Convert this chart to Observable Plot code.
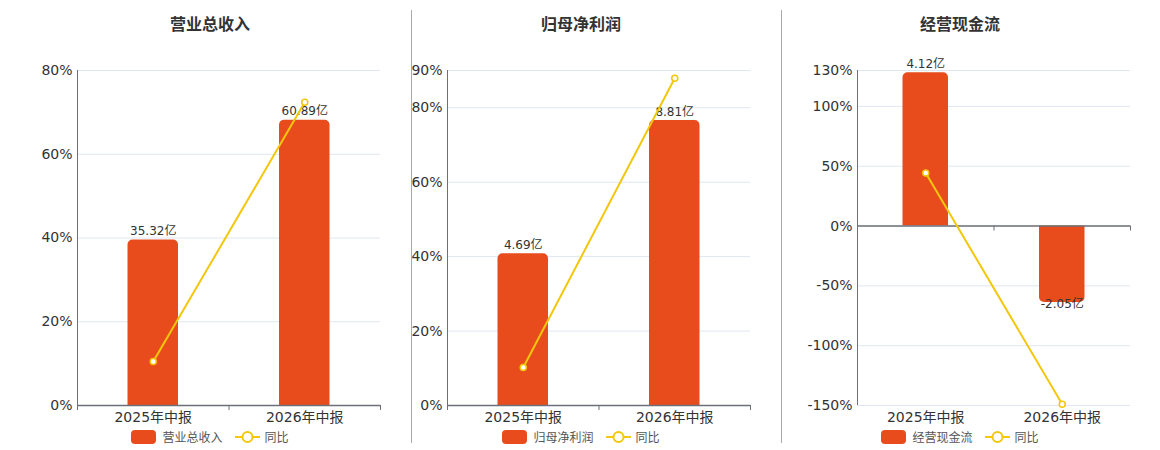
<!DOCTYPE html>
<html>
<head>
<meta charset="utf-8">
<script src="https://cdn.jsdelivr.net/npm/d3@7"></script>
<script src="https://cdn.jsdelivr.net/npm/@observablehq/plot@0.6"></script>
<style>
  html, body { margin: 0; padding: 0; background: #fff; }
  #root { position: relative; width: 1160px; height: 450px; overflow: hidden; font-family: "DejaVu Sans", "Noto Sans CJK SC", sans-serif; }
  .title { position: absolute; top: 11px; width: 240px; text-align: center; font-size: 16px; font-weight: bold; color: #333; }
  .sep { position: absolute; top: 10px; width: 1px; height: 433px; background: #aaa; z-index: 5; }
  .legend { position: absolute; top: 428px; width: 240px; display: flex; justify-content: center; align-items: center; font-size: 12px; color: #555; }
  .legend .sw { display: inline-block; width: 25px; height: 14px; border-radius: 4px; margin-right: 6px; }
  .legend svg { margin-left: 12px; margin-right: 5px; }
  .chart { position: absolute; top: 40px; }
</style>
</head>
<body>
<div id="root"></div>
<script>
// ---- data ----
const categories = ["2025年中报", "2026年中报"];
const titles = ["营业总收入", "归母净利润", "经营现金流"];
const barValues = [
  [35.32, 60.89],
  [4.69, 8.81],
  [4.12, -2.05]
];
const yoyValues = [
  [10.5, 72.4],
  [10.2, 87.9],
  [44.4, -149]
];
const pctDomains = [[0, 80], [0, 90], [-150, 130]];
const pctTicks = [
  [0, 20, 40, 60, 80],
  [0, 20, 40, 60, 80, 90],
  [-150, -100, -50, 0, 50, 100, 130]
];
// hidden secondary (amount, 亿) axis domains aligned to the percent axis
const barDomains = [[0, 71.5], [0, 10.36], [-4.82, 4.18]];

const barColor = "#e84c1c";
const lineColor = "#f2c70c";

// ---- layout of each panel ----
const panels = [
  { svgLeft: 0,   width: 400, mLeft: 77, mRight: 20, center: 210 },
  { svgLeft: 411, width: 370, mLeft: 36, mRight: 31, center: 581 },
  { svgLeft: 781, width: 379, mLeft: 76, mRight: 30, center: 960 }
];

// bars with rounded far-end corners, drawn through Plot's scales
function roundedBars(rows, fill, radius) {
  return (index, scales) => {
    const g = d3.create("svg:g");
    for (const d of rows) {
      const x0 = scales.x(d.i + 1/3), x1 = scales.x(d.i + 2/3);
      const yb = scales.y(0), yt = scales.y(d.bar);
      const h = Math.abs(yt - yb);
      const r = Math.min(radius, h, (x1 - x0) / 2);
      const s = yt < yb ? 1 : -1; // 1: bar goes up
      const path = s === 1
        ? `M${x0},${yb}V${yt + r}A${r},${r} 0 0 1 ${x0 + r},${yt}H${x1 - r}A${r},${r} 0 0 1 ${x1},${yt + r}V${yb}Z`
        : `M${x0},${yb}V${yt - r}A${r},${r} 0 0 0 ${x0 + r},${yt}H${x1 - r}A${r},${r} 0 0 0 ${x1},${yt - r}V${yb}Z`;
      g.append("path").attr("d", path).attr("fill", fill);
    }
    return g.node();
  };
}

const root = document.getElementById("root");

titles.forEach((title, k) => {
  const p = panels[k];
  const pd = pctDomains[k], bd = barDomains[k];
  const toPct = v => pd[0] + (v - bd[0]) / (bd[1] - bd[0]) * (pd[1] - pd[0]);
  const rows = categories.map((c, i) => ({
    i, cat: c,
    amt: barValues[k][i],
    bar: toPct(barValues[k][i]),
    yoy: yoyValues[k][i],
    label: barValues[k][i].toFixed(2) + "亿"
  }));
  const plot = Plot.plot({
    width: p.width,
    height: 390,
    marginLeft: p.mLeft,
    marginRight: p.mRight,
    marginTop: 30,
    marginBottom: 25,
    style: { fontFamily: "DejaVu Sans, Noto Sans CJK SC, sans-serif", fontSize: "14px", color: "#333", background: "white" },
    x: { type: "linear", domain: [0, categories.length], axis: null },
    y: { domain: pd, axis: null },
    marks: [
      Plot.ruleY(pctTicks[k], { stroke: "#e0e6f1", strokeWidth: 1 }),
      roundedBars(rows, barColor, 5),
      Plot.ruleX([0], { stroke: "#6e7079", strokeWidth: 1 }),
      Plot.ruleY([0], { stroke: "#6e7079", strokeWidth: 1.5 }),
      Plot.ruleX(d3.range(categories.length + 1), { x: d => d, y1: () => 0, y2: () => 0, insetBottom: -5, stroke: "#6e7079", strokeWidth: 1 }),
      Plot.axisY({ ticks: pctTicks[k], tickSize: 0, tickPadding: 5, tickFormat: d => d + "%", fontSize: 14, label: null, fill: "#333" }),
      Plot.axisX({ ticks: categories.map((c, i) => i + 0.5), tickSize: 0, tickPadding: 7, tickFormat: v => categories[Math.floor(v)], fontSize: 14, label: null, fill: "#333" }),
      Plot.text(rows.filter(d => d.amt >= 0), { x: d => d.i + 0.5, y: d => d.bar, text: d => d.label, lineAnchor: "bottom", dy: -5, fontSize: 12, fill: "#333" }),
      Plot.text(rows.filter(d => d.amt < 0), { x: d => d.i + 0.5, y: d => d.bar, text: d => d.label, lineAnchor: "top", dy: -3, fontSize: 12, fill: "#333" }),
      Plot.line(rows, { x: d => d.i + 0.5, y: d => d.yoy, stroke: lineColor, strokeWidth: 2 }),
      Plot.dot(rows, { x: d => d.i + 0.5, y: d => d.yoy, r: 3, fill: "white", stroke: lineColor, strokeWidth: 1.5 })
    ]
  });
  plot.classList.add("chart");
  plot.style.left = p.svgLeft + "px";
  root.appendChild(plot);

  const t = document.createElement("div");
  t.className = "title";
  t.style.left = (p.center - 120) + "px";
  t.textContent = title;
  root.appendChild(t);

  const lg = document.createElement("div");
  lg.className = "legend";
  lg.style.left = (p.center - 120) + "px";
  lg.innerHTML = `<span class="sw" style="background:${barColor}"></span><span>${title}</span>` +
    `<svg width="25" height="14"><line x1="0" y1="7" x2="25" y2="7" stroke="${lineColor}" stroke-width="2"/>` +
    `<circle cx="12.5" cy="7" r="5" fill="white" stroke="${lineColor}" stroke-width="2"/></svg><span>同比</span>`;
  root.appendChild(lg);
});

[411, 781].forEach(x => {
  const s = document.createElement("div");
  s.className = "sep";
  s.style.left = x + "px";
  root.appendChild(s);
});
</script>
</body>
</html>
